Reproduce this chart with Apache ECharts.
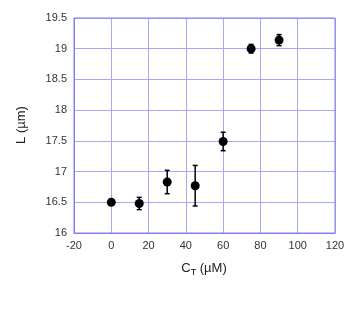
<!DOCTYPE html>
<html>
<head>
<meta charset="utf-8">
<script src="https://cdn.jsdelivr.net/npm/echarts@6/dist/echarts.min.js"></script>
<style>html,body{margin:0;padding:0;background:#fff;}#c{width:357px;height:321px;}</style>
</head>
<body>
<div id="c"></div>
<script>
var concentrations = [0, 15, 30, 45, 60, 75, 90];
var lengths = [16.50, 16.48, 16.83, 16.77, 17.49, 19.00, 19.14];
var errors = [0.02, 0.10, 0.19, 0.33, 0.15, 0.07, 0.09];
var xTicks = [-20, 0, 20, 40, 60, 80, 100, 120];
var yTicks = [16, 16.5, 17, 17.5, 18, 18.5, 19, 19.5];

var pts = concentrations.map(function (c, i) { return [c, lengths[i]]; });
var errData = concentrations.map(function (c, i) { return [c, lengths[i] - errors[i], lengths[i] + errors[i]]; });

var chart = echarts.init(document.getElementById('c'), null, {renderer: 'canvas'});
var font = 'Liberation Sans, Arial, sans-serif';
chart.setOption({
  animation: false,
  grid: {left: 74, right: 22, top: 18, bottom: 88},
  xAxis: {
    type: 'value', min: -20, max: 120, interval: 20,
    axisLine: {show: true, onZero: false, lineStyle: {color: '#8080f0', width: 1}},
    axisTick: {show: false},
    axisLabel: {color: '#333', fontSize: 11, fontFamily: font, margin: 7},
    splitLine: {show: true, lineStyle: {color: '#a9a9f6', width: 1}}
  },
  yAxis: {
    type: 'value', min: 16, max: 19.5, interval: 0.5,
    axisLine: {show: true, onZero: false, lineStyle: {color: '#8080f0', width: 1}},
    axisTick: {show: false},
    axisLabel: {color: '#333', fontSize: 11, fontFamily: font, margin: 7,
      formatter: function (v) { return String(Math.round(v * 10) / 10); }},
    splitLine: {show: true, lineStyle: {color: '#a9a9f6', width: 1}}
  },
  graphic: [
    {type: 'rect', shape: {x: 74, y: 18, width: 261, height: 215}, style: {fill: 'none', stroke: '#8080f0', lineWidth: 1}, silent: true, z: 1},
    {type: 'text', x: 21, y: 125, rotation: Math.PI / 2, style: {text: 'L (µm)', font: '13px Liberation Sans, Arial, sans-serif', fill: '#222', align: 'center', verticalAlign: 'middle'}},
    {type: 'text', x: 204, y: 268, style: {
      text: '{n|C}{s|T}{n| (µM)}',
      rich: {n: {fontSize: 13, fontFamily: font, fill: '#222', color: '#222'}, s: {fontSize: 9, fontFamily: font, color: '#222', padding: [9, 0, 0, 0]}},
      align: 'center', verticalAlign: 'middle'}}
  ],
  series: [
    {
      type: 'custom',
      data: errData,
      z: 3,
      renderItem: function (params, api) {
        var x = api.value(0);
        var lo = api.coord([x, api.value(1)]);
        var hi = api.coord([x, api.value(2)]);
        var cap = 2.5;
        var st = {stroke: '#000', lineWidth: 1.5};
        return {type: 'group', children: [
          {type: 'line', shape: {x1: lo[0], y1: lo[1], x2: hi[0], y2: hi[1]}, style: st},
          {type: 'line', shape: {x1: lo[0] - cap, y1: lo[1], x2: lo[0] + cap, y2: lo[1]}, style: st},
          {type: 'line', shape: {x1: hi[0] - cap, y1: hi[1], x2: hi[0] + cap, y2: hi[1]}, style: st}
        ]};
      }
    },
    {
      type: 'scatter', data: pts, symbol: 'circle', symbolSize: 9, z: 4,
      itemStyle: {color: '#000', opacity: 1}
    }
  ]
});
</script>
</body>
</html>
